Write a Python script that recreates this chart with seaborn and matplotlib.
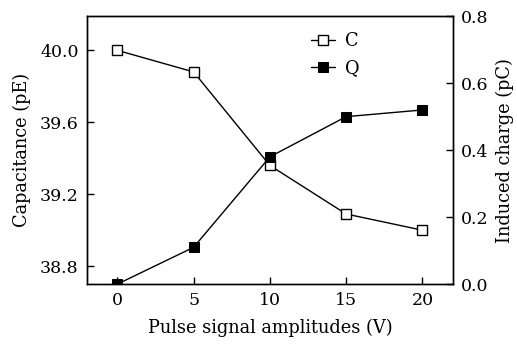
import numpy as np
import pandas as pd
import matplotlib
matplotlib.use("Agg")
import matplotlib.pyplot as plt
import seaborn as sns

# --- DATA ---
amplitudes = [0, 5, 10, 15, 20]
capacitance = [40.0, 39.88, 39.36, 39.09, 39.0]
charge = [0.0, 0.11, 0.38, 0.50, 0.52]

sns.set_theme(style="ticks")
plt.rcParams['font.family'] = ['DejaVu Serif']
plt.rcParams['text.color'] = 'black'
plt.rcParams['axes.labelcolor'] = 'black'

df = pd.DataFrame({"V": amplitudes, "C": capacitance, "Q": charge})

fig, ax = plt.subplots(figsize=(5.17, 3.44), dpi=100)
ax2 = ax.twinx()

sns.lineplot(x="V", y="C", data=df, ax=ax, color="black", linewidth=1,
             marker="s", markersize=7, markerfacecolor="white",
             markeredgecolor="black", markeredgewidth=1, label="C", legend=False)
sns.lineplot(x="V", y="Q", data=df, ax=ax2, color="black", linewidth=1,
             marker="s", markersize=7, markerfacecolor="black",
             markeredgecolor="black", label="Q", legend=False)

ax.set_xlim(-2, 22)
ax.set_ylim(38.7, 40.19)
ax2.set_ylim(0, 0.8)
ax.set_xticks(amplitudes)
ax.set_yticks([38.8, 39.2, 39.6, 40.0])
ax.set_yticklabels(["38.8", "39.2", "39.6", "40.0"])
ax2.set_yticks([0.0, 0.2, 0.4, 0.6, 0.8])
ax2.set_yticklabels(["0.0", "0.2", "0.4", "0.6", "0.8"])

for a in (ax, ax2):
    for s in a.spines.values():
        s.set_color("black")
        s.set_linewidth(1)
ax.tick_params(axis="both", direction="in", length=5, width=1, labelsize=12.5,
               colors="black", top=False, pad=6)
ax2.tick_params(axis="y", direction="in", length=5, width=1, labelsize=12.5,
                colors="black", pad=6)

ax.set_xlabel("Pulse signal amplitudes (V)", fontsize=12.8, labelpad=7)
ax.set_ylabel("Capacitance (pE)", fontsize=12.8, labelpad=6)
ax2.set_ylabel("Induced charge (pC)", fontsize=12.8, labelpad=5)

h1, l1 = ax.get_legend_handles_labels()
h2, l2 = ax2.get_legend_handles_labels()
ax2.legend(h1 + h2, l1 + l2, loc="upper left", bbox_to_anchor=(0.57, 1.0),
           frameon=False, fontsize=12.8, handlelength=1.3, handletextpad=0.6,
           labelspacing=0.5)

fig.subplots_adjust(left=0.168, right=0.876, top=0.953, bottom=0.174)
fig.savefig("out.png", dpi=100)
